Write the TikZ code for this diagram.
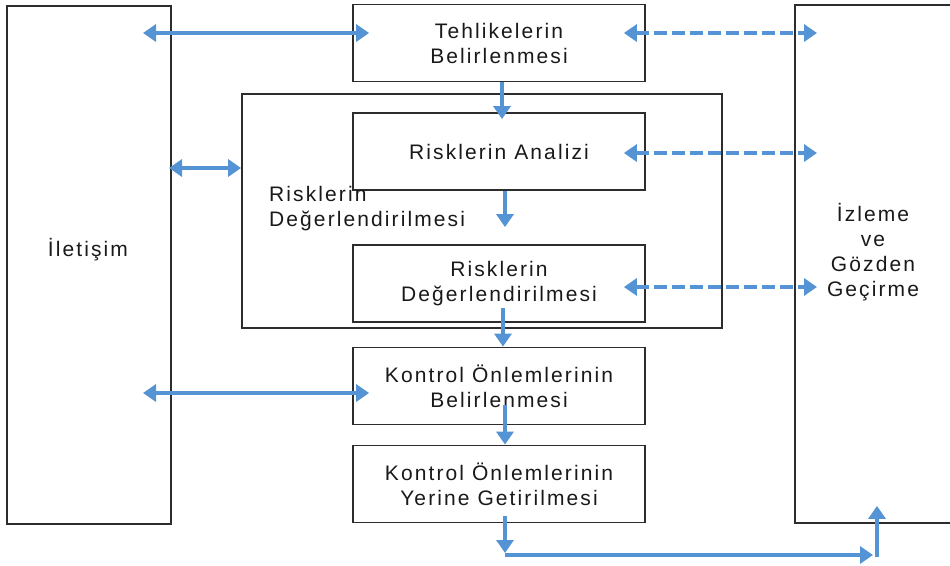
\documentclass[tikz,border=0pt]{standalone}
\usepackage{fontspec}
\setmainfont{Liberation Sans}[LetterSpace=10]
\usetikzlibrary{arrows.meta}

\definecolor{okmavi}{RGB}{84,148,212}
\definecolor{cerceve}{RGB}{45,45,45}

\begin{document}
\begin{tikzpicture}
  [x=1pt, y=-1pt,
   every node/.style={font=\fontsize{21}{25}\selectfont, text=black!90, inner sep=0pt},
   kutu/.style={draw=cerceve, line width=1.8pt, align=center, minimum width=292pt, minimum height=77pt},
   yan/.style={draw=cerceve, line width=1.8pt, minimum width=164pt, minimum height=518pt},
   ok/.style={draw=okmavi, line width=4.5pt, -{Triangle[width=17pt,length=13pt]}},
   ikiok/.style={draw=okmavi, line width=4.5pt, {Triangle[width=17pt,length=13pt]}-{Triangle[width=17pt,length=13pt]}},
   kesik/.style={ikiok, dash pattern=on 13pt off 5pt}]

  \clip (0,0) rectangle (950,565);

  % yan kutular
  \node[yan] (ilet) at (89,265) {};
  \node at (88,250) {İletişim};
  \node[yan] (izleme) at (877,264) {};
  \node[align=center] at (873,252) {İzleme\\ve\\Gözden\\Geçirme};

  % orta sutun
  \node[kutu] (tehlike) at (499,43) {Tehlikelerin\\Belirlenmesi};
  \node[draw=cerceve, line width=1.8pt, minimum width=480pt, minimum height=234pt] (buyuk) at (482,211) {};
  \node[kutu] (analiz) at (499,151.5) {Risklerin Analizi};
  \node[align=left, anchor=north west] (degLbl) at (269,186) {Risklerin\\Değerlendirilmesi};
  \node[kutu] (degerl) at (499,283.5) {Risklerin\\Değerlendirilmesi};
  \node[kutu] (kontrolA) at (499,386) {Kontrol Önlemlerinin\\Belirlenmesi};
  \node[kutu] (kontrolB) at (499,484) {Kontrol Önlemlerinin\\Yerine Getirilmesi};

  \coordinate (ilet1) at (143,33);
  \coordinate (ilet2) at (169,168);
  \coordinate (ilet3) at (143,393);
  \coordinate (izl1) at (817,33);
  \coordinate (izl2) at (817,153);
  \coordinate (izl3) at (817,287);
  \coordinate (kose) at (505,555);
  \coordinate (donus) at (877,555);

  % iletisim oklari
  \draw[ikiok] (ilet1) -- ([xshift=17pt,yshift=10pt]tehlike.west);
  \draw[ikiok] (ilet2) -- (buyuk.west |- ilet2);
  \draw[ikiok] (ilet3) -- ([xshift=17pt,yshift=-7pt]kontrolA.west);

  % izleme oklari
  \draw[kesik] ([xshift=-22pt,yshift=10pt]tehlike.east) -- (izl1);
  \draw[kesik] ([xshift=-22pt,yshift=-1.5pt]analiz.east) -- (izl2);
  \draw[kesik] ([xshift=-22pt,yshift=-3.5pt]degerl.east) -- (izl3);

  % akis
  \draw[ok] ([xshift=3pt]tehlike.south) -- ([xshift=3pt,yshift=-7pt]analiz.north);
  \draw[ok] ([xshift=6pt]analiz.south) -- ([xshift=6pt,yshift=17pt]degerl.north);
  \draw[ok] ([xshift=4pt,yshift=15pt]degerl.south) -- ([xshift=4pt]kontrolA.north);
  \draw[ok] ([xshift=6pt,yshift=20pt]kontrolA.south) -- ([xshift=6pt]kontrolB.north);
  \draw[ok] ([xshift=6pt,yshift=7pt]kontrolB.south) -- ([yshift=2pt]kose);
  \draw[ok] (kose) -- ([xshift=-4pt]donus);
  \draw[ok] ([yshift=-2pt]donus) -- ([yshift=18pt]izleme.south -| donus);
\end{tikzpicture}
\end{document}
